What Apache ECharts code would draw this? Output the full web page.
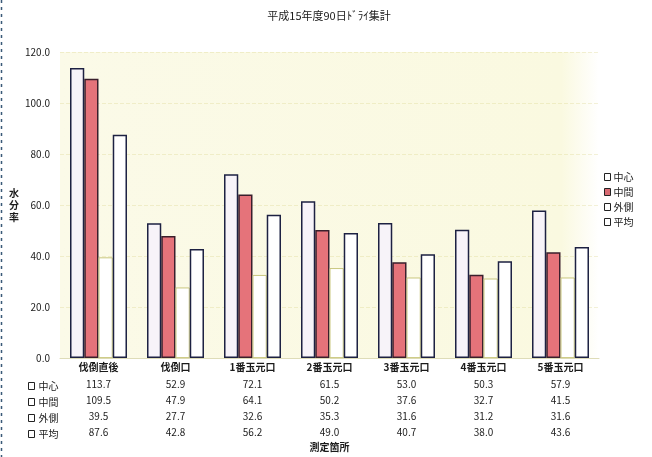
<!DOCTYPE html>
<html>
<head>
<meta charset="utf-8">
<script src="https://cdn.jsdelivr.net/npm/echarts@6/dist/echarts.min.js"></script>
<style>
  html, body { margin: 0; padding: 0; background: #ffffff; }
  #chart { width: 652px; height: 457px; }
</style>
</head>
<body>
<div id="chart"></div>
<script>
// 測定箇所ごとの水分率（90日ドライ）
const titleText = '平成15年度90日ﾄﾞﾗｲ集計';
const categories = ['伐倒直後', '伐倒口', '1番玉元口', '2番玉元口', '3番玉元口', '4番玉元口', '5番玉元口'];
const seriesNames = ['中心', '中間', '外側', '平均'];
const centerValues = [113.7, 52.9, 72.1, 61.5, 53.0, 50.3, 57.9];
const middleValues = [109.5, 47.9, 64.1, 50.2, 37.6, 32.7, 41.5];
const outerValues  = [39.5, 27.7, 32.6, 35.3, 31.6, 31.2, 31.6];
const averageValues = [87.6, 42.8, 56.2, 49.0, 40.7, 38.0, 43.6];
const yTicks = [0, 20, 40, 60, 80, 100, 120];

const allValues = [centerValues, middleValues, outerValues, averageValues];
const font = '"Noto Sans CJK JP", "Noto Sans", sans-serif';
const ink = '#1b1b1b';
const edge = '#1d2142';

const fills = ['#f7f3f9', '#e5737a', '#ffffff', '#ffffff'];
const borders = [edge, '#3a1f2c', '#c9c77e', edge];

const chart = echarts.init(document.getElementById('chart'), null, { renderer: 'canvas' });

const series = seriesNames.map((name, i) => ({
  name: name,
  type: 'bar',
  data: allValues[i],
  barGap: '0%',
  barCategoryGap: '26%',
  itemStyle: { color: fills[i], borderColor: borders[i], borderWidth: i === 2 ? 1 : 1.5 },
  emphasis: { disabled: true }
}));

// data table below the categories: one column per category
const richStyles = {
  c: { fontSize: 10, fontWeight: 'bold', color: ink, lineHeight: 17, fontFamily: font },
  v: { fontSize: 10, color: ink, lineHeight: 16, fontFamily: font }
};

chart.setOption({
  backgroundColor: '#ffffff',
  animation: false,
  textStyle: { fontFamily: font },
  title: {
    text: titleText,
    left: 324,
    textAlign: 'center',
    top: 5,
    textStyle: { fontSize: 11, fontWeight: 'normal', color: ink, fontFamily: font }
  },
  legend: [
    {
      orient: 'vertical',
      left: 601,
      top: 171,
      padding: [0, 3, 0, 3],
      itemGap: 3,
      itemWidth: 6,
      itemHeight: 7,
      icon: 'rect',
      borderWidth: 0,
      textStyle: { fontSize: 10, color: ink, padding: [0, 0, 0, -2], lineHeight: 12, fontFamily: font },
      data: seriesNames.map((n, i) => ({
        name: n,
        itemStyle: { color: i === 1 ? '#d86a72' : '#ffffff', borderColor: '#222', borderWidth: 1 }
      }))
    },
    {
      orient: 'vertical',
      left: 28,
      top: 380,
      padding: 0,
      itemGap: 4,
      itemWidth: 6,
      itemHeight: 7,
      icon: 'rect',
      selectedMode: false,
      textStyle: { fontSize: 10, color: ink, padding: [0, 0, 0, -1], lineHeight: 12, fontFamily: font },
      data: seriesNames.map(n => ({
        name: n,
        itemStyle: { color: '#ffffff', borderColor: '#222', borderWidth: 1 }
      }))
    }
  ],
  grid: {
    left: 60,
    right: 53,
    top: 52,
    bottom: 95,
    show: true,
    borderWidth: 0,
    backgroundColor: {
      type: 'linear', x: 0, y: 0, x2: 1, y2: 0,
      colorStops: [
        { offset: 0, color: '#fbfae8' },
        { offset: 0.93, color: '#faf9e0' },
        { offset: 1, color: '#ffffff' }
      ]
    }
  },
  xAxis: {
    type: 'category',
    data: categories,
    name: '測定箇所',
    nameLocation: 'middle',
    nameGap: 80,
    nameTextStyle: { fontSize: 10, fontWeight: 'bold', color: ink, fontFamily: font },
    axisLine: { show: true, lineStyle: { color: '#dedcb8', width: 1 } },
    axisTick: { show: false },
    axisLabel: {
      margin: 1,
      interval: 0,
      formatter: (name, idx) => {
        const rows = allValues.map(v => '{v|' + v[idx].toFixed(1) + '}');
        return ['{c|' + name + '}'].concat(rows).join('\n');
      },
      rich: richStyles
    }
  },
  yAxis: {
    type: 'value',
    min: 0,
    max: 120,
    interval: 20,
    name: '水\n分\n率',
    nameLocation: 'middle',
    nameRotate: 0,
    nameGap: 33,
    nameTextStyle: { fontSize: 10, fontWeight: 'bold', color: ink, lineHeight: 12, fontFamily: font },
    axisLine: { show: false },
    axisTick: { show: false },
    axisLabel: {
      margin: 10,
      fontSize: 10,
      color: ink,
      fontFamily: font,
      formatter: v => (yTicks.indexOf(v) >= 0 ? v.toFixed(1) : '')
    },
    splitLine: { show: true, lineStyle: { color: 'rgba(214,208,130,0.3)', type: 'dashed', width: 1 } }
  },
  series: series,
  graphic: [
    {
      type: 'line',
      shape: { x1: 1.5, y1: 0, x2: 1.5, y2: 457 },
      style: { stroke: '#3a5a78', lineWidth: 1.5, lineDash: [3, 4] },
      silent: true
    }
  ]
});
</script>
</body>
</html>
